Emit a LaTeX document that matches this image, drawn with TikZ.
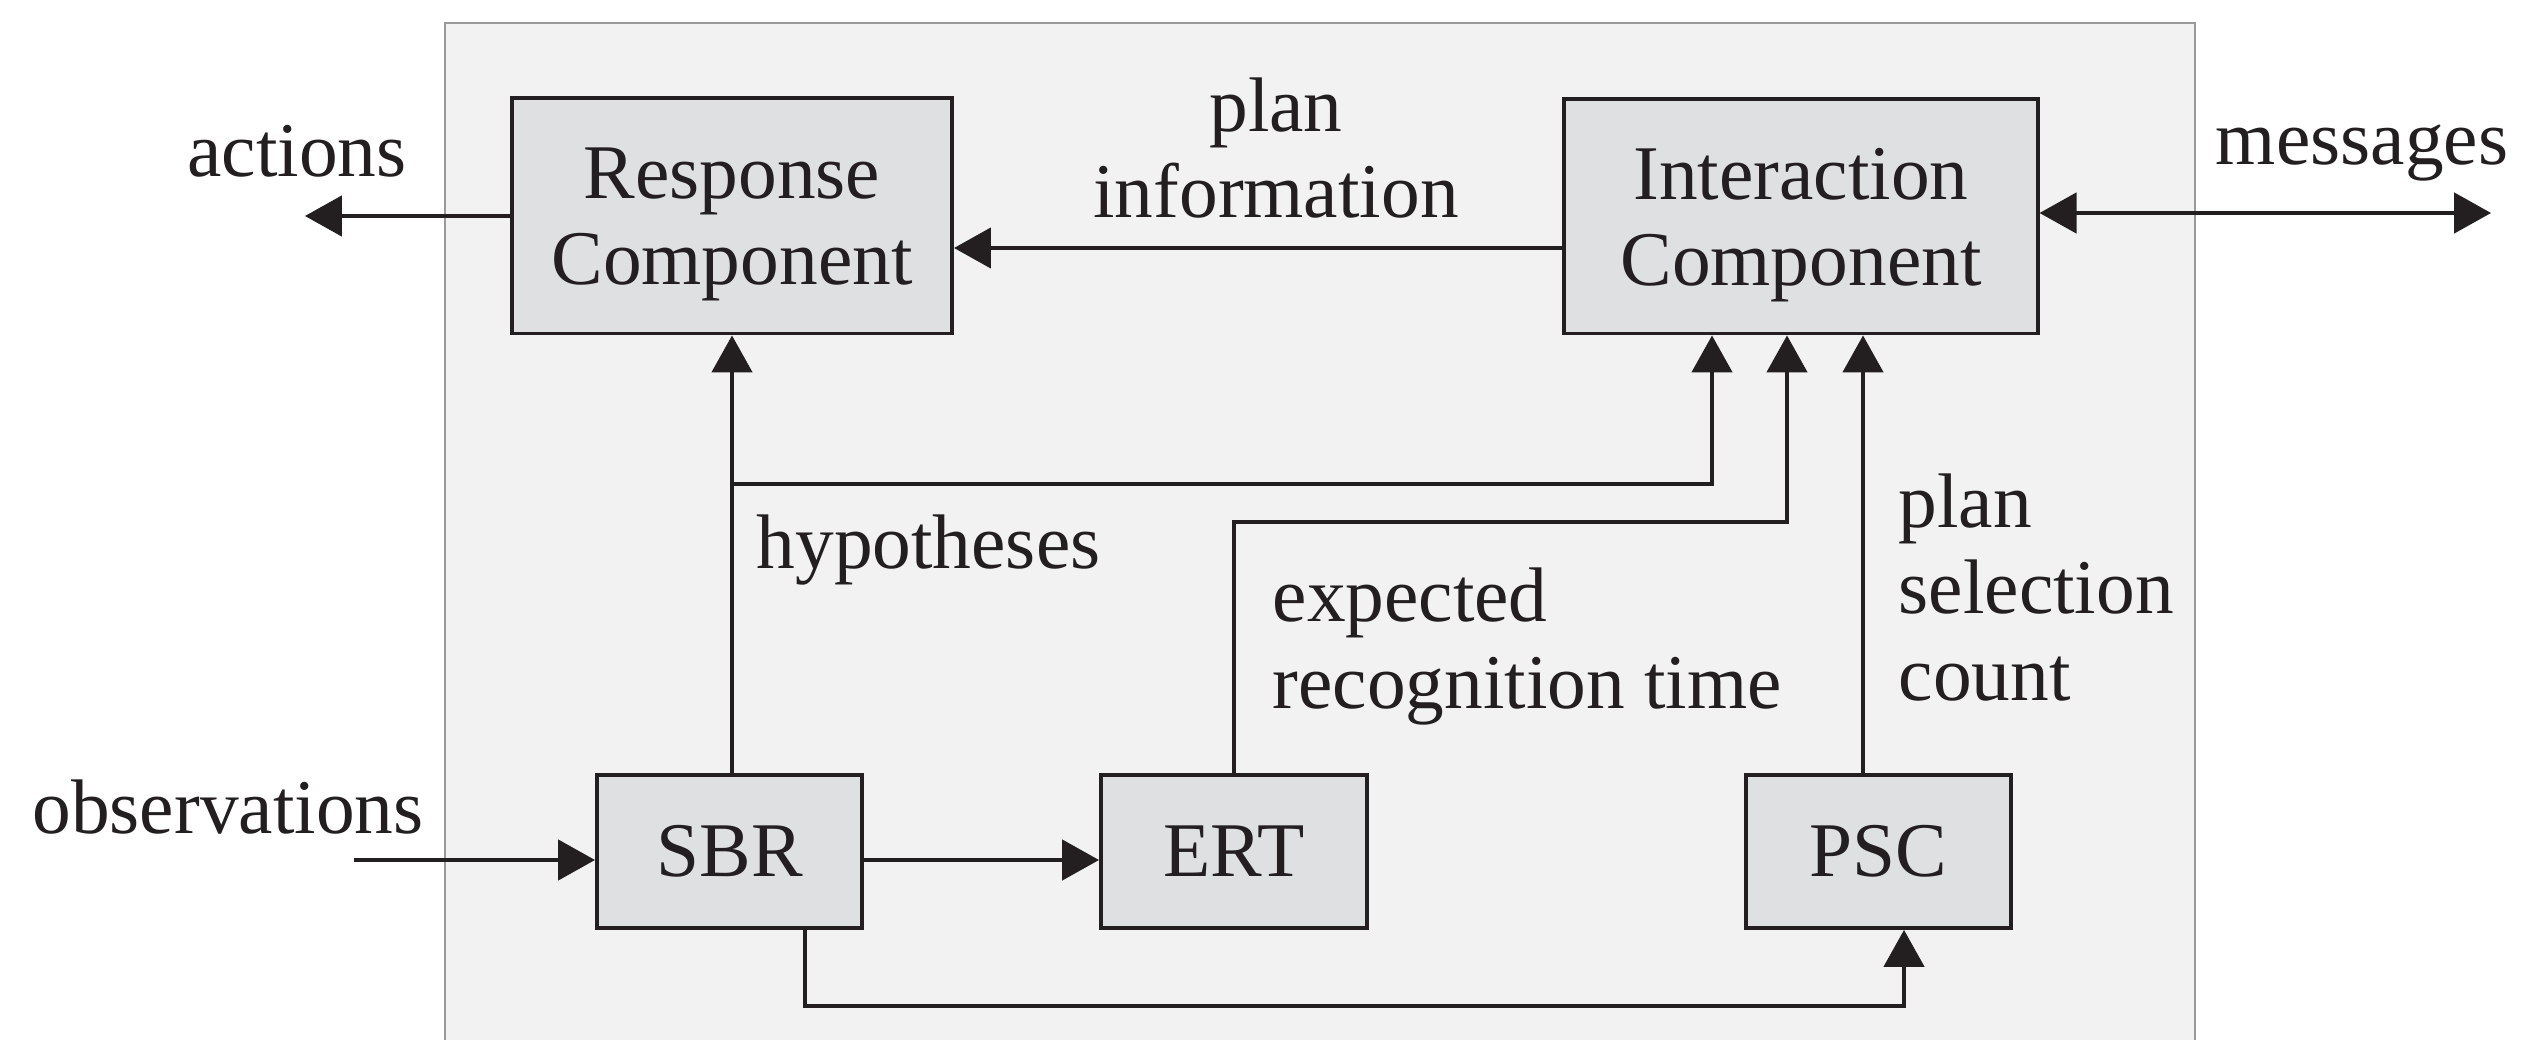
\documentclass[tikz,border=0pt]{standalone}
\usepackage{fontspec}
\setmainfont{Liberation Serif}
\usetikzlibrary{arrows.meta}
\definecolor{ink}{HTML}{231F20}
\definecolor{framefill}{HTML}{F2F2F2}
\definecolor{boxfill}{HTML}{DFE0E2}
\definecolor{framedraw}{HTML}{9A9A9A}
\begin{document}
\begin{tikzpicture}[x=0.01cm,y=-0.01cm,
 every node/.style={font=\fontsize{22}{24.5}\selectfont, text=ink},
 block/.style={draw=ink, fill=boxfill, line width=1.1pt, inner sep=0pt, align=center},
 conn/.style={draw=ink, line width=0.9pt},
 arr/.style={conn, -{Triangle[length=10.5pt,width=11.5pt]}},
 darr/.style={conn, {Triangle[length=10.5pt,width=11.5pt]}-{Triangle[length=10.5pt,width=11.5pt]}},
 lbl/.style={inner sep=0pt}]
\useasboundingbox (0,0) rectangle (2521,1040);
\fill[framefill] (445,23) rectangle (2195,1045);
\draw[framedraw, line width=0.6pt] (445,1045) -- (445,23) -- (2195,23) -- (2195,1045);

\node[block, minimum width=4.4cm, minimum height=2.35cm, text depth=0pt] (resp) at (732,216) {Response\\Component};
\node[block, minimum width=4.73cm, minimum height=2.34cm, text depth=0pt] (inter) at (1801,216.5) {Interaction\\Component};
\node[block, minimum width=2.65cm, minimum height=1.53cm] (sbr) at (729.5,851.5) {SBR};
\node[block, minimum width=2.66cm, minimum height=1.53cm] (ert) at (1234,851.5) {ERT};
\node[block, minimum width=2.65cm, minimum height=1.53cm] (psc) at (1878.5,851.5) {PSC};

\coordinate (act) at (305,216);
\coordinate (piy) at (0,248);
\coordinate (msg) at (2491,213);
\coordinate (hx) at (732,0);
\coordinate (hy) at (0,484);
\coordinate (x1) at (1712,0);
\coordinate (x2) at (1787,0);
\coordinate (ey) at (0,522);
\coordinate (x3) at (1863,0);
\coordinate (obs) at (354,860);
\coordinate (sx) at (805,0);
\coordinate (bot) at (1904,1006);

\draw[arr] (resp.west) -- (act);
\draw[arr] (inter.west |- piy) -- (resp.east |- piy);
\draw[darr] (inter.east |- msg) -- (msg);
\draw[arr] (sbr.north -| hx) -- (resp.south -| hx);
\draw[arr] (hx |- hy) -| (inter.south -| x1);
\draw[arr] (ert.north) |- (x2 |- ey) -- (inter.south -| x2);
\draw[arr] (psc.north -| x3) -- (inter.south -| x3);
\draw[arr] (sbr.south -| sx) |- (bot) -- (psc.south -| bot);
\draw[arr] (obs) -- (sbr.west |- obs);
\draw[arr] (sbr.east |- obs) -- (ert.west |- obs);

\node[lbl, anchor=base] (lact) at (297,177) {actions};
\node[lbl, align=center, anchor=base] (lplan) at (1276,218) {plan\\information};
\node[lbl, anchor=base] (lmsg) at (2362,165) {messages};
\node[lbl, anchor=base] (lobs) at (228,833) {observations};
\node[lbl, anchor=base west] (lhyp) at (756,568) {hypotheses};
\node[lbl, align=left, anchor=base west] (lert) at (1272,708) {expected\\recognition time};
\node[lbl, align=left, anchor=base west] (lpsc) at (1898,700) {plan\\selection\\count};
\end{tikzpicture}
\end{document}
